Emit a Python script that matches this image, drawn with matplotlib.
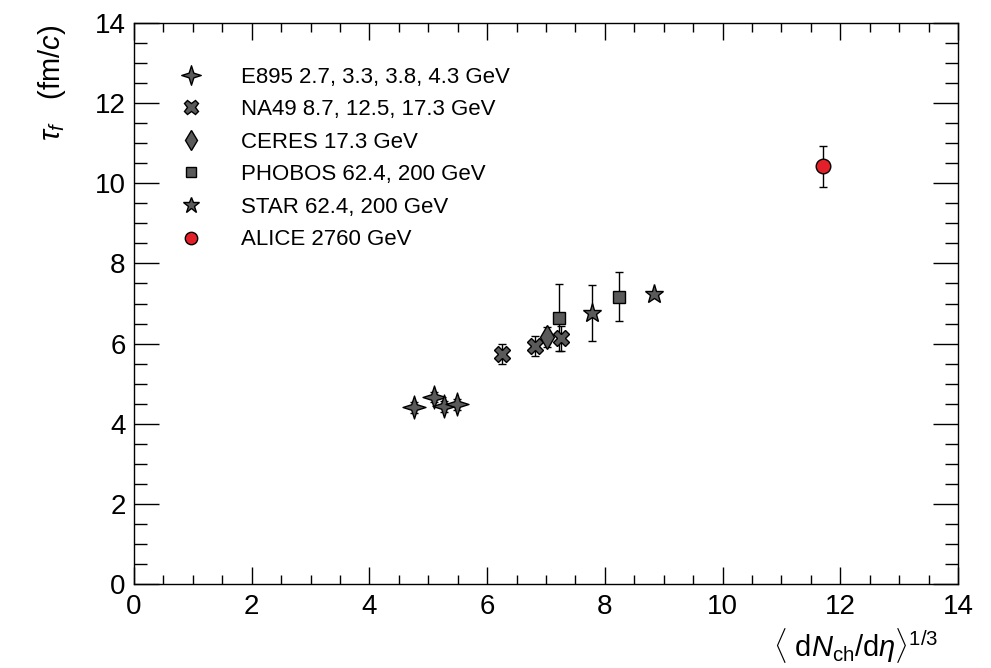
import numpy as np
import matplotlib
matplotlib.use("Agg")
import matplotlib.pyplot as plt
from matplotlib.path import Path
from matplotlib.ticker import MultipleLocator

plt.rcParams["font.family"] = ["Liberation Sans", "DejaVu Sans"]
plt.rcParams["mathtext.fontset"] = "custom"
plt.rcParams["mathtext.rm"] = "Liberation Sans"
plt.rcParams["mathtext.it"] = "Liberation Sans:italic"

# data
e895_x = [4.75, 5.10, 5.27, 5.48]
e895_y = [4.41, 4.66, 4.43, 4.48]
e895_err = [0.13, 0.13, 0.13, 0.13]

na49_x = [6.25, 6.82, 7.25]
na49_y = [5.74, 5.94, 6.13]
na49_err = [0.25, 0.26, 0.32]

ceres_x = [7.02]
ceres_y = [6.17]
ceres_err = [0.25]

phobos_x = [7.22, 8.24]
phobos_y = [6.65, 7.17]
phobos_err = [0.83, 0.61]

star_x = [7.79, 8.84]
star_y = [6.76, 7.23]
star_err = [0.69, 0.0]

alice_x = [11.70]
alice_y = [10.42]
alice_err = [0.52]

labels = ["E895 2.7, 3.3, 3.8, 4.3 GeV", "NA49 8.7, 12.5, 17.3 GeV",
          "CERES 17.3 GeV", "PHOBOS 62.4, 200 GeV",
          "STAR 62.4, 200 GeV", "ALICE 2760 GeV"]

gray = "#5a5a5a"

# four-pointed star like ROOT's marker
ang = np.arange(8) * np.pi / 4 + np.pi / 2
rad = np.where(np.arange(8) % 2 == 0, 1.0, 0.34)
verts = np.column_stack([rad * np.cos(ang), rad * np.sin(ang)])
verts = np.vstack([verts, verts[:1]])
star4 = Path(verts, [Path.MOVETO] + [Path.LINETO] * 7 + [Path.CLOSEPOLY])

fig = plt.figure(figsize=(9.91, 6.68), dpi=100)
ax = fig.add_axes([0.1352, 0.1257, 0.8315, 0.8399])

sets = [
    (e895_x, e895_y, e895_err, star4, 16.5, gray),
    (na49_x, na49_y, na49_err, "X", 12, gray),
    (ceres_x, ceres_y, ceres_err, "d", 12.5, gray),
    (phobos_x, phobos_y, phobos_err, "s", 8.5, gray),
    (star_x, star_y, star_err, "*", 14, gray),
    (alice_x, alice_y, alice_err, "o", 10.5, "#e3202a"),
]
for (x, y, e, m, ms, c), lab in zip(sets, labels):
    ax.errorbar(x, y, yerr=e, fmt="none", ecolor="black", elinewidth=1.0,
                capsize=3, capthick=1.0, zorder=2)
    ax.plot(x, y, linestyle="none", marker=m, markersize=ms,
            markerfacecolor=c, markeredgecolor="black", markeredgewidth=1.0,
            label=lab, zorder=3)

ax.set_xlim(0, 14)
ax.set_ylim(0, 14)
ax.xaxis.set_major_locator(MultipleLocator(2))
ax.xaxis.set_minor_locator(MultipleLocator(0.5))
ax.yaxis.set_major_locator(MultipleLocator(2))
ax.yaxis.set_minor_locator(MultipleLocator(0.5))
ax.tick_params(axis="x", which="both", direction="in", top=True,
               labelsize=20, pad=7)
ax.tick_params(axis="y", which="both", direction="in", right=True,
               labelsize=20, pad=6)
ax.tick_params(axis="x", which="major", length=12, width=1)
ax.tick_params(axis="x", which="minor", length=6.5, width=1)
ax.tick_params(axis="y", which="major", length=18, width=1)
ax.tick_params(axis="y", which="minor", length=9.5, width=1)
for s in ax.spines.values():
    s.set_linewidth(1)

ax.set_xlabel(r"$\langle\ \mathrm{d}N_{\mathrm{ch}}/\mathrm{d}\eta\rangle^{1/3}$",
              fontsize=21, ha="right")
ax.xaxis.set_label_coords(0.9757, -0.075)
ax.set_ylabel(r"$\tau_{f}$   (fm/$c$)", fontsize=21, ha="right")
ax.yaxis.set_label_coords(-0.08, 0.997)

ax.legend(loc="upper left", bbox_to_anchor=(0.025, 0.958), frameon=False,
          fontsize=16, labelspacing=0.52, handletextpad=1.5,
          handlelength=1.5, markerscale=0.85)

fig.savefig("out.png", dpi=100)
